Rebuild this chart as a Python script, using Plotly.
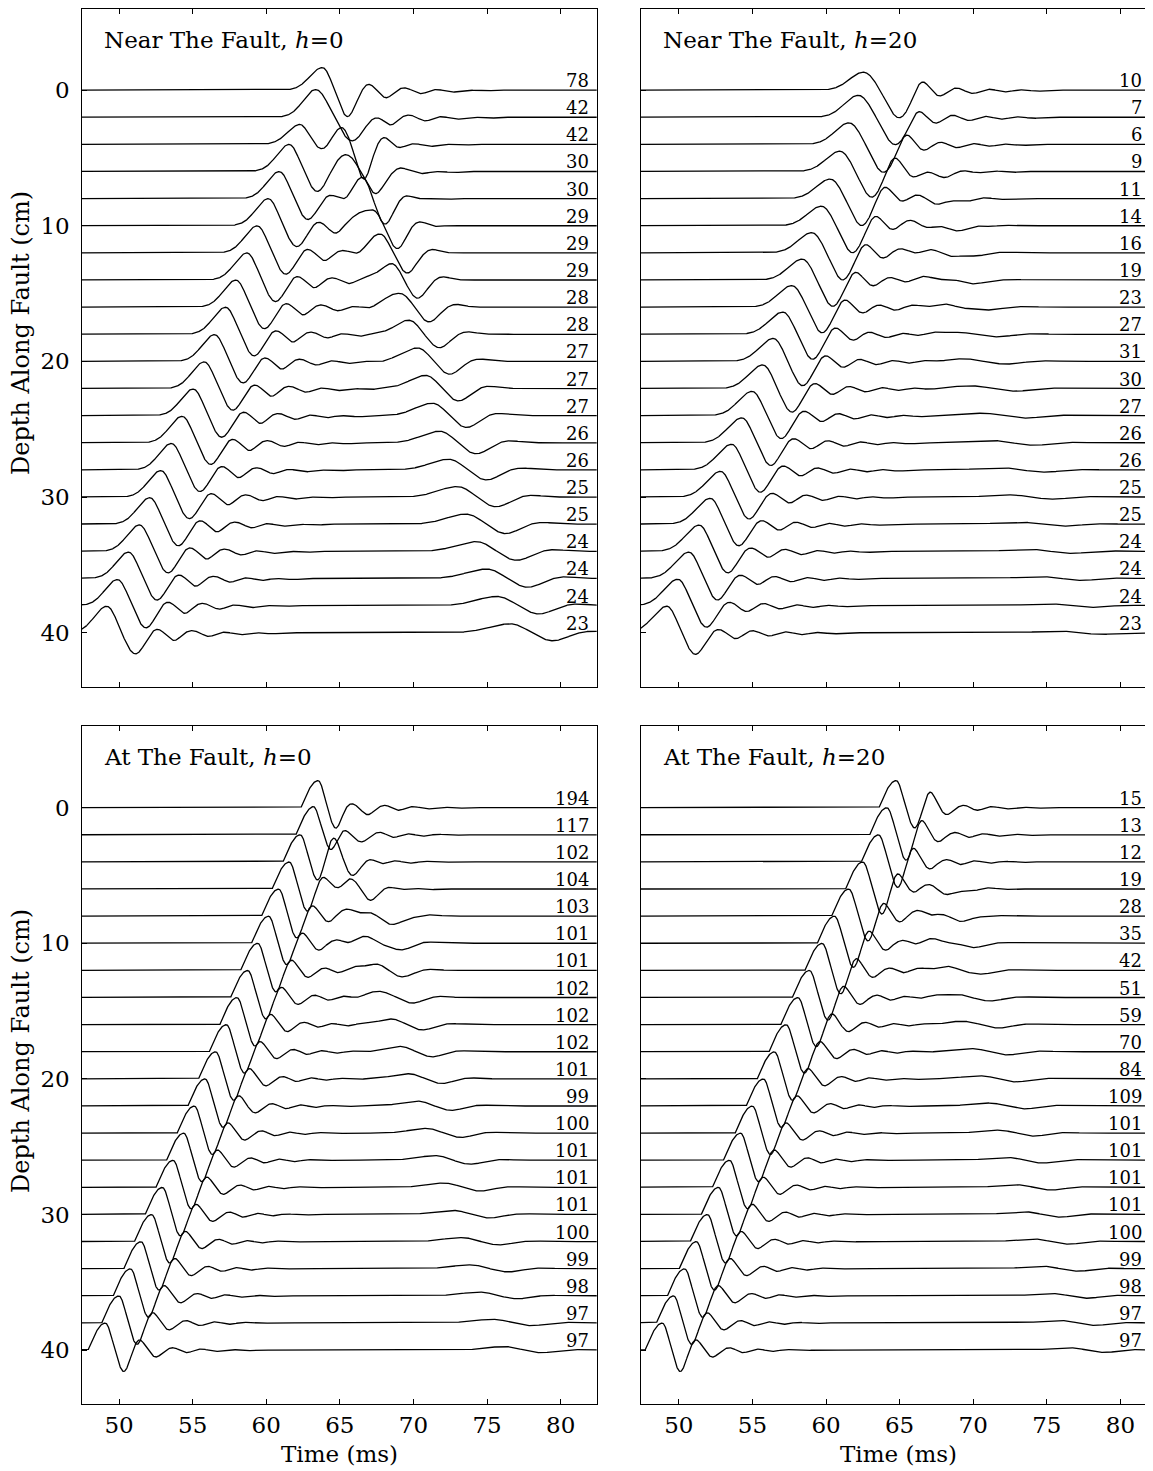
import numpy as np
import plotly.graph_objects as go

# page body has an 8px margin; visible drawing area is limited to page x <= 1145
PAGE_W, PAGE_H, BODY = 1153, 1471, 8
FW, FH = PAGE_W - 2 * BODY, PAGE_H - BODY
VIS_RIGHT = PAGE_W - BODY
FONT = "DejaVu Serif"


def px_x(px):
    return (px - BODY) / FW


def px_y(py):
    return 1 - (py - BODY) / FH


depths = list(range(0, 42, 2))

# ---------------- Panel A : Near The Fault, h=0 ----------------
A_labels = [78, 42, 42, 30, 30, 29, 29, 29, 28, 28, 27, 27, 27, 26, 26, 25, 25, 24, 24, 24, 23]
A_tpk = [63.82, 63.37, 62.3, 61.57, 60.9, 60.15, 59.4, 58.7, 57.95, 57.25, 56.5,
         55.8, 55.05, 54.3, 53.57, 52.85, 52.1, 51.4, 50.65, 49.9, 49.18]
A_apk = [1.67, 2.05, 1.47, 2.0, 2.0, 2.0, 2.0, 2.0, 2.0, 2.0, 1.98,
         1.97, 1.97, 1.96, 1.96, 1.96, 1.96, 1.95, 1.95, 1.93, 1.96]
A_atr = [1.96, 1.75, 0.75, 1.5, 1.55, 1.55, 1.58, 1.6, 1.6, 1.6, 1.6,
         1.6, 1.6, 1.6, 1.6, 1.6, 1.6, 1.6, 1.6, 1.65, 1.57]
A_dtr = [1.69, 2.45, 1.7, 1.9, 1.92, 1.92, 1.92, 1.92, 1.92, 1.92, 1.92,
         1.92, 1.92, 1.92, 1.92, 1.92, 1.92, 1.92, 1.92, 1.92, 1.92]
A_ring = [1.4, 0.5, 0.0, 0.6, 0.8, 1.0, 1.0, 1.0, 1.0, 1.0, 1.0,
          1.0, 1.0, 1.0, 1.0, 1.0, 1.0, 1.0, 1.0, 1.0, 1.0]
A_ts = [0, 0, 65.07, 65.8, 66.47, 67.15, 67.82, 68.5, 69.1, 69.7, 70.3,
        70.85, 71.3, 71.8, 72.4, 73.0, 73.6, 74.3, 75.0, 75.7, 76.6]
A_as = [0, 0, 1.35, 1.45, 1.45, 1.45, 1.4, 1.25, 1.1, 1.05, 1.0,
        0.98, 0.93, 0.86, 0.8, 0.78, 0.75, 0.72, 0.7, 0.68, 0.66]
A_bs = [0, 0, 2.0, 1.8, 1.7, 1.6, 1.5, 1.3, 1.1, 1.0, 0.95,
        0.92, 0.88, 0.82, 0.75, 0.72, 0.7, 0.67, 0.65, 0.62, 0.6]
A_ds = [1, 1, 1.55, 1.6, 1.65, 1.7, 1.75, 1.8, 1.95, 2.05, 2.15,
        2.2, 2.3, 2.45, 2.55, 2.6, 2.65, 2.7, 2.75, 2.8, 2.85]

# ---------------- Panel B : Near The Fault, h=20 ----------------
B_labels = [10, 7, 6, 9, 11, 14, 16, 19, 23, 27, 31, 30, 27, 26, 26, 25, 25, 24, 24, 24, 23]
B_tpk = [62.56, 62.2, 61.57, 60.95, 60.3, 59.7, 59.05, 58.4, 57.7, 57.08, 56.43,
         55.72, 55.0, 54.3, 53.6, 52.85, 52.15, 51.4, 50.7, 49.95, 49.2]
B_apk = [1.33, 1.63, 1.6, 1.5, 1.45, 1.45, 1.5, 1.55, 1.6, 1.65, 1.7,
         1.75, 1.8, 1.85, 1.9, 1.9, 1.92, 1.94, 1.95, 1.95, 1.96]
B_atr = [2.05, 2.03, 2.07, 2.05, 2.03, 2.0, 2.0, 1.95, 1.9, 1.85, 1.8,
         1.75, 1.7, 1.68, 1.65, 1.62, 1.6, 1.6, 1.6, 1.6, 1.6]
B_dtr = [2.4, 2.5, 2.33, 2.17, 2.13, 2.1, 2.08, 2.05, 2.03, 2.0, 1.98,
         1.96, 1.95, 1.94, 1.93, 1.92, 1.92, 1.92, 1.92, 1.92, 1.92]
B_ring = [0.93, 0.75, 1.0, 1.0, 0.9, 0.85, 0.8, 0.75, 0.7, 0.62, 0.55,
          0.5, 0.45, 0.42, 0.4, 0.38, 0.36, 0.35, 0.34, 0.34, 0.34]
B_ts = [0, 0, 0, 64.6, 65.3, 65.9, 66.5, 67.2, 67.9, 68.6, 69.3,
        69.9, 70.6, 71.2, 71.9, 72.5, 73.2, 73.8, 74.5, 75.1, 75.8]
B_as = [0, 0, 0, 0.25, 0.25, 0.25, 0.25, 0.22, 0.22, 0.2, 0.2,
        0.2, 0.18, 0.18, 0.17, 0.16, 0.15, 0.15, 0.14, 0.13, 0.12]
B_bs = [0, 0, 0, 0.25, 0.25, 0.25, 0.25, 0.22, 0.22, 0.2, 0.2,
        0.2, 0.18, 0.18, 0.17, 0.16, 0.15, 0.15, 0.14, 0.13, 0.12]
B_ds = [1, 1, 1, 2.9, 2.9, 2.9, 2.9, 2.9, 2.9, 2.9, 2.9,
        2.9, 2.9, 2.9, 2.9, 2.9, 2.9, 2.9, 2.9, 2.9, 2.9]

# ---------------- Panel C : At The Fault, h=0 ----------------
C_labels = [194, 117, 102, 104, 103, 101, 101, 102, 102, 102, 101, 99, 100, 101, 101, 101, 100, 99, 98, 97, 97]
C_tpk = [63.53, 63.19, 62.31, 61.57, 60.85, 60.17, 59.43, 58.75, 58.02, 57.3, 56.57,
         55.85, 55.12, 54.4, 53.68, 52.95, 52.22, 51.5, 50.78, 50.0, 49.07]
C_apk = [2.0] * 21
C_atr = [1.52, 1.6, 1.67, 1.65, 1.62, 1.6, 1.6, 1.6, 1.6, 1.6, 1.6,
         1.6, 1.6, 1.6, 1.6, 1.6, 1.6, 1.6, 1.6, 1.6, 1.6]
C_dtr = [1.19, 1.2, 1.22, 1.22, 1.22, 1.22, 1.22, 1.22, 1.22, 1.22, 1.22,
         1.22, 1.22, 1.22, 1.22, 1.22, 1.22, 1.22, 1.22, 1.22, 1.25]
C_ring = [0.4, 0.8, 1.0, 1.0, 1.0, 1.0, 1.0, 1.0, 1.0, 1.0, 1.0,
          1.0, 1.0, 1.0, 1.0, 1.0, 1.0, 1.0, 1.0, 1.0, 1.0]
C_ts = [0, 64.4, 64.6, 65.5, 66.3, 66.8, 67.3, 67.85, 68.5, 69.1, 69.7,
        70.3, 70.9, 71.5, 72.1, 72.7, 73.3, 73.9, 74.5, 75.4, 76.2]
C_as = [0, 0.5, 1.0, 0.8, 0.45, 0.45, 0.5, 0.45, 0.42, 0.4, 0.38,
        0.36, 0.35, 0.34, 0.32, 0.3, 0.3, 0.29, 0.28, 0.27, 0.26]
C_bs = [0, 0.4, 0.6, 0.65, 0.55, 0.5, 0.45, 0.42, 0.4, 0.38, 0.35,
        0.33, 0.32, 0.3, 0.28, 0.26, 0.25, 0.24, 0.22, 0.2, 0.2]
C_ds = [1, 1.3, 1.45, 1.6, 2.4, 2.2, 2.0, 2.05, 2.1, 2.15, 2.2,
        2.25, 2.3, 2.35, 2.4, 2.45, 2.5, 2.5, 2.55, 2.6, 2.5]

# ---------------- Panel D : At The Fault, h=20 ----------------
D_labels = [15, 13, 12, 19, 28, 35, 42, 51, 59, 70, 84, 109, 101, 101, 101, 101, 100, 99, 98, 97, 97]
D_tpk = [64.77, 64.14, 63.57, 62.5, 61.55, 60.58, 59.74, 58.88, 58.1, 57.3, 56.5,
         55.75, 55.0, 54.2, 53.45, 52.7, 51.95, 51.2, 50.4, 49.65, 48.88]
D_apk = [2.0] * 21
D_atr = [1.52, 1.9, 1.9, 1.9, 1.85, 1.8, 1.75, 1.7, 1.65, 1.6, 1.6,
         1.6, 1.6, 1.6, 1.6, 1.6, 1.6, 1.6, 1.6, 1.6, 1.6]
D_dtr = [1.25, 1.3, 1.3, 1.3, 1.3, 1.28, 1.26, 1.25, 1.24, 1.23, 1.22,
         1.22, 1.22, 1.22, 1.22, 1.22, 1.22, 1.22, 1.22, 1.22, 1.22]
D_ring = [1.5, 1.4, 1.35, 1.3, 1.25, 1.2, 1.15, 1.1, 1.05, 1.0, 1.0,
          1.0, 1.0, 1.0, 1.0, 1.0, 1.0, 1.0, 1.0, 1.0, 1.0]
D_ts = [0, 0, 0, 66.3, 66.9, 67.5, 68.1, 68.7, 69.3, 69.9, 70.5,
        71.1, 71.7, 72.3, 72.9, 73.5, 74.1, 74.7, 75.3, 75.9, 76.5]
D_as = [0, 0, 0, 0.3, 0.3, 0.28, 0.28, 0.26, 0.25, 0.24, 0.23,
        0.22, 0.22, 0.21, 0.2, 0.2, 0.19, 0.19, 0.18, 0.18, 0.18]
D_bs = [0, 0, 0, 0.3, 0.3, 0.28, 0.28, 0.26, 0.25, 0.24, 0.23,
        0.22, 0.22, 0.21, 0.2, 0.2, 0.19, 0.19, 0.18, 0.18, 0.18]
D_ds = [1, 1, 1, 2.4, 2.4, 2.4, 2.4, 2.4, 2.4, 2.4, 2.4,
        2.4, 2.4, 2.4, 2.4, 2.4, 2.4, 2.4, 2.4, 2.4, 2.4]

# wavelet ringing templates (offset after trough [ms], relative amplitude)
NEAR0_RING_OFF = [1.4, 2.64, 3.84, 5.0, 6.0, 7.14, 8.2, 9.3]
NEAR0_RING_AMP = [0.34, -0.57, 0.17, -0.27, 0.05, -0.15, 0.0, -0.08]
NEAR20_RING_OFF = [1.5, 2.75, 3.85, 5.0, 6.1, 7.2, 8.3, 9.4]
NEAR20_RING_AMP = [0.9, -0.45, 0.18, -0.25, 0.08, -0.14, 0.03, -0.08]
AT_RING_OFF = [1.04, 2.18, 3.35, 4.25, 5.25, 6.25, 7.3, 8.3]
AT_RING_AMP = [0.79, -0.52, 0.18, -0.2, 0.08, -0.1, 0.04, -0.05]

panels = [
    dict(title="Near The Fault, <i>h</i>=0", labels=A_labels, tpk=A_tpk, apk=A_apk, atr=A_atr,
         dtr=A_dtr, ring=A_ring, ts=A_ts, as_=A_as, bs=A_bs, ds=A_ds,
         onset="gauss", sl=0.85, roff=NEAR0_RING_OFF, ramp=NEAR0_RING_AMP, rs=0.4),
    dict(title="Near The Fault, <i>h</i>=20", labels=B_labels, tpk=B_tpk, apk=B_apk, atr=B_atr,
         dtr=B_dtr, ring=B_ring, ts=B_ts, as_=B_as, bs=B_bs, ds=B_ds,
         onset="gauss", sl=0.95, roff=NEAR20_RING_OFF, ramp=NEAR20_RING_AMP, rs=0.45),
    dict(title="At The Fault, <i>h</i>=0", labels=C_labels, tpk=C_tpk, apk=C_apk, atr=C_atr,
         dtr=C_dtr, ring=C_ring, ts=C_ts, as_=C_as, bs=C_bs, ds=C_ds,
         onset="sine", sl=1.17, roff=AT_RING_OFF, ramp=AT_RING_AMP, rs=0.36),
    dict(title="At The Fault, <i>h</i>=20", labels=D_labels, tpk=D_tpk, apk=D_apk, atr=D_atr,
         dtr=D_dtr, ring=D_ring, ts=D_ts, as_=D_as, bs=D_bs, ds=D_ds,
         onset="sine", sl=1.17, roff=AT_RING_OFF, ramp=AT_RING_AMP, rs=0.36),
]


def gauss(t, t0, s):
    return np.exp(-0.5 * ((t - t0) / s) ** 2)


def trace_signal(t, p, i):
    tp, apk, atr, dtr = p["tpk"][i], p["apk"][i], p["atr"][i], p["dtr"][i]
    sr = 0.31 * dtr
    if p["onset"] == "gauss":
        left = apk * gauss(t, tp, p["sl"])
    else:
        L = p["sl"]
        u = (t - (tp - L)) / L
        left = np.where(u < 0, 0.0, apk * np.sin(0.5 * np.pi * np.clip(u, 0, 1)))
    y = np.where(t < tp, left, apk * gauss(t, tp, sr))
    y = y - atr * gauss(t, tp + dtr, sr)
    for k, (off, amp) in enumerate(zip(p["roff"], p["ramp"])):
        a = amp * (p["ring"][i] if k == 0 else 1.0)
        y = y + a * gauss(t, tp + dtr + off, p["rs"])
    # secondary arrival
    a_s, b_s, d_s, t_s = p["as_"][i], p["bs"][i], p["ds"][i], p["ts"][i]
    if a_s > 0:
        ls = np.where(t < t_s, 0.5 * d_s, 0.33 * d_s)
        y = y + a_s * np.exp(-0.5 * ((t - t_s) / ls) ** 2)
        y = y - b_s * gauss(t, t_s + d_s, 0.33 * d_s)
        y = y + 0.2 * b_s * gauss(t, t_s + 1.9 * d_s, 0.3 * d_s)
    return y


PX_PER_MS = 14.72
X0 = {"L": 47.45, "R": 47.43}
LEFT_PX = {"L": 81.5, "R": 641.0}
RIGHT_PX = {"L": 596.7, "R": float(VIS_RIGHT)}
LABEL_RIGHT_PX = {"L": 590.7, "R": VIS_RIGHT - 1.5}
TOP_PX = {"T": 8.7, "B": 726.3}
BOT_PX = {"T": 687.0, "B": 1404.3}

xdom = {k: [px_x(LEFT_PX[k]), px_x(RIGHT_PX[k])] for k in ("L", "R")}
xrng = {k: [X0[k], X0[k] + (RIGHT_PX[k] - LEFT_PX[k]) / PX_PER_MS] for k in ("L", "R")}
xlab = {k: X0[k] + (LABEL_RIGHT_PX[k] - LEFT_PX[k]) / PX_PER_MS for k in ("L", "R")}
ydom = {k: [px_y(BOT_PX[k]), px_y(TOP_PX[k])] for k in ("T", "B")}
YRANGE = [44.0, -6.0]

positions = [("L", "T"), ("R", "T"), ("L", "B"), ("R", "B")]
t = np.arange(46.5, 83.0, 0.02)

fig = go.Figure()
annotations = []
for n, (p, (cx, cy)) in enumerate(zip(panels, positions)):
    ax = "" if n == 0 else str(n + 1)
    for i, d in enumerate(depths):
        sig = trace_signal(t, p, i)
        fig.add_trace(go.Scatter(x=t, y=d - sig, mode="lines",
                                 line=dict(color="black", width=1.3),
                                 xaxis="x" + ax, yaxis="y" + ax,
                                 hoverinfo="skip", showlegend=False))
        annotations.append(dict(x=xlab[cx], y=d,
                                xref="x" + ax, yref="y" + ax,
                                text=str(p["labels"][i]), showarrow=False,
                                xanchor="right", yanchor="bottom", yshift=-3,
                                font=dict(family=FONT, size=18, color="black")))
    annotations.append(dict(x=px_x(LEFT_PX[cx] + 20.0), y=px_y(TOP_PX[cy] + 31.0),
                            xref="paper", yref="paper", text=p["title"], showarrow=False,
                            xanchor="left", yanchor="middle",
                            font=dict(family=FONT, size=23, color="black")))
    bottom = cy == "B"
    left = cx == "L"
    fig.update_layout(**{
        "xaxis" + ax: dict(domain=xdom[cx], range=xrng[cx], anchor="y" + ax,
                           showline=True, linecolor="black", linewidth=1.3,
                           mirror="ticks", ticks="inside", ticklen=5, tickwidth=1.2,
                           tickcolor="black", tickvals=[50, 55, 60, 65, 70, 75, 80],
                           showticklabels=bottom, showgrid=False, zeroline=False,
                           tickfont=dict(family=FONT, size=23, color="black")),
        "yaxis" + ax: dict(domain=ydom[cy], range=YRANGE, anchor="x" + ax,
                           showline=True, linecolor="black", linewidth=1.3,
                           mirror=left, ticks="inside", ticklen=5, tickwidth=1.2,
                           tickcolor="black", tickvals=[0, 10, 20, 30, 40],
                           showticklabels=left, showgrid=False, zeroline=False,
                           ticklabelstandoff=6,
                           tickfont=dict(family=FONT, size=23, color="black")),
    })

# axis titles
for cy in ("T", "B"):
    yc = 333.0 if cy == "T" else 1051.0
    annotations.append(dict(x=px_x(21.0), y=px_y(yc), xref="paper", yref="paper",
                            text="Depth Along Fault (cm)", textangle=-90, showarrow=False,
                            xanchor="center", yanchor="middle",
                            font=dict(family=FONT, size=24, color="black")))
for cx in ("L", "R"):
    xc = 339.0 if cx == "L" else 898.6
    annotations.append(dict(x=px_x(xc), y=px_y(1454.0), xref="paper", yref="paper",
                            text="Time (ms)", showarrow=False,
                            xanchor="center", yanchor="middle",
                            font=dict(family=FONT, size=23, color="black")))

fig.update_layout(width=FW, height=FH, margin=dict(l=0, r=0, t=0, b=0),
                  paper_bgcolor="white", plot_bgcolor="white",
                  annotations=annotations, showlegend=False)
fig.write_html("out.html")
